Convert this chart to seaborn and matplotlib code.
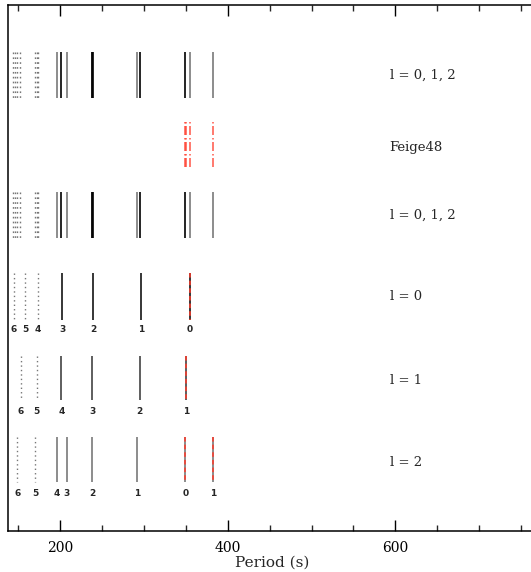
import matplotlib
matplotlib.use("Agg")
import matplotlib.pyplot as plt
from matplotlib.ticker import MultipleLocator
import seaborn as sns

# ---------------- data (periods in seconds) ----------------
l0_periods = [145.1, 158.3, 173.8, 202.4, 239.4, 296.6, 355.0]
l0_k = [6, 5, 4, 3, 2, 1, 0]
l1_periods = [153.5, 172.2, 201.6, 238.5, 295.0, 350.6]
l1_k = [6, 5, 4, 3, 2, 1]
l2_periods = [149.1, 170.2, 196.1, 208.3, 238.2, 291.5, 349.4, 382.8]
l2_k = [6, 5, 4, 3, 2, 1, 0, 1]
# modes matched to the observed periods (red overlays)
l0_matched = [355.0]
l1_matched = [350.6]
l2_matched = [349.4, 382.8]
# observed Feige 48 periods
feige48 = [349.4, 350.8, 355.0, 382.8]
# combined l = 0, 1, 2 rows
comb_dotted = [143.5, 146.3, 149.1, 152.0, 170.2, 172.2, 174.1]
comb_black = [201.6, 238.5, 239.4, 295.0, 349.4]
comb_gray = [196.1, 208.3, 238.2, 291.5, 355.0, 382.8]
row_labels = ["l = 0, 1, 2", "Feige48", "l = 0, 1, 2", "l = 0", "l = 1", "l = 2"]
xtick_major = [200, 400, 600]

# ---------------- style ----------------
sns.set_theme(style="ticks")
plt.rcParams["font.family"] = ["DejaVu Serif"]

fig = plt.figure(figsize=(5.31, 5.72), dpi=100)
W, H = 531, 572
LEFT_PX, RIGHT_PX = 8, 537
ax = fig.add_axes([LEFT_PX / W, (H - 531) / H, (RIGHT_PX - LEFT_PX) / W, (531 - 5) / H])
ax.set_facecolor("white")
ax.set_ylim(531, 5)  # vertical layout coordinates (pixels from top)
px_per_unit = (227.7 - 60.0) / 200.0
ax.set_xlim(200 - (60 - LEFT_PX) / px_per_unit, 200 + (RIGHT_PX - 60) / px_per_unit)

BLACK = "#000000"
GRAY = "#6e6e6e"
DOT = "#777777"
RED = "#ff3a2a"
dotted = (0, (1.0, 2.2))
dashdot = (0, (0.9, 1.5, 5.4, 1.8))

def draw_row(periods, ks, top, bot, solid_color, ndot_min, label_y):
    for p, k in zip(periods, ks):
        if k >= ndot_min:
            ax.vlines(p, top, bot, color=DOT, lw=1.0, linestyles=dotted)
        else:
            ax.vlines(p, top, bot, color=solid_color, lw=1.1)
        ax.text(p, label_y, str(k), ha="center", va="center",
                fontsize=6.5, fontweight="bold", family=["DejaVu Sans"])

def draw_matched(periods, top, bot):
    for p in periods:
        ax.vlines(p, top, bot, color=RED, lw=1.1, linestyles=(0, (3, 2)))

# combined rows
for top, bot in [(52, 98), (192, 238)]:
    for p in comb_dotted:
        ax.vlines(p, top, bot, color=DOT, lw=1.0, linestyles=(0, (1.2, 2.3)))
    for p in comb_gray:
        ax.vlines(p, top, bot, color=GRAY, lw=1.1)
    for p in comb_black:
        ax.vlines(p, top, bot, color=BLACK, lw=1.2)

# Feige48 observed
for p in feige48:
    ax.vlines(p, 122, 168, color=RED, lw=1.2, alpha=0.8, linestyles=dashdot)

# single-degree rows
draw_row(l0_periods, l0_k, 273, 320, BLACK, 4, 330)
draw_matched(l0_matched, 273, 320)
draw_row(l1_periods, l1_k, 356, 400, "#333333", 5, 411)
draw_matched(l1_matched, 356, 400)
draw_row(l2_periods, l2_k, 437, 482, GRAY, 5, 493)
draw_matched(l2_matched, 437, 482)

# right-hand labels
for txt, y in zip(row_labels, [75, 147, 215, 297, 380, 463]):
    ax.text(593, y, txt, ha="left", va="center", fontsize=9.5)

# axes / ticks
ax.xaxis.set_major_locator(MultipleLocator(200))
ax.xaxis.set_minor_locator(MultipleLocator(50))
ax.set_xticks(xtick_major)
ax.set_xticklabels([str(t) for t in xtick_major], fontsize=10)
ax.tick_params(axis="x", which="major", direction="in", length=8, width=1,
               top=True, bottom=True, pad=7, colors="black")
ax.tick_params(axis="x", which="minor", direction="in", length=4.5, width=1,
               top=True, bottom=True)
ax.set_yticks([])
for s in ["left", "bottom", "top", "right"]:
    ax.spines[s].set_color("black")
    ax.spines[s].set_linewidth(1.1)
ax.set_xlabel("Period (s)", fontsize=11, labelpad=1)

fig.savefig("out.png", dpi=100, facecolor="white")
